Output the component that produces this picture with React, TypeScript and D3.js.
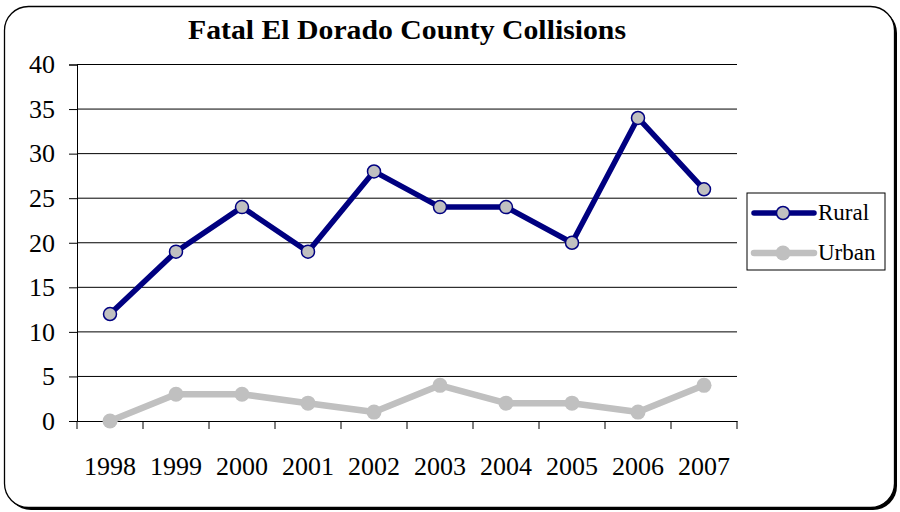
import React, { useEffect, useRef } from "react";
import * as d3 from "d3";

const years = ["1998", "1999", "2000", "2001", "2002", "2003", "2004", "2005", "2006", "2007"];
const rural = [12, 19, 24, 19, 28, 24, 24, 20, 34, 26];
const urban = [0, 3, 3, 2, 1, 4, 2, 2, 1, 4];
const yTicks = [0, 5, 10, 15, 20, 25, 30, 35, 40];
const seriesNames = ["Rural", "Urban"];

const FONT = "'Liberation Serif', 'Times New Roman', serif";
const NAVY = "#000080";
const GREY = "#C0C0C0";

const App = () => {
  const svgRef = useRef<SVGSVGElement>(null);

  useEffect(() => {
    const svg = d3.select(svgRef.current);
    svg.selectAll("*").remove();

    // frame with a small shadow bottom-right
    svg.append("rect")
      .attr("x", 7).attr("y", 9).attr("width", 890).attr("height", 501)
      .attr("rx", 24).attr("fill", "#000");
    svg.append("rect")
      .attr("x", 4.5).attr("y", 6.5).attr("width", 890).attr("height", 501)
      .attr("rx", 24).attr("fill", "#fff").attr("stroke", "#000").attr("stroke-width", 1.3);

    svg.append("text")
      .attr("x", 407).attr("y", 39)
      .attr("text-anchor", "middle")
      .attr("font-family", FONT).attr("font-weight", "bold").attr("font-size", 28)
      .attr("textLength", 438).attr("lengthAdjust", "spacingAndGlyphs")
      .text("Fatal El Dorado County Collisions");

    const x = d3.scaleBand().domain(years).range([77, 737]);
    const y = d3.scaleLinear().domain([0, 40]).range([421, 64.5]);
    const cx = (d: string) => (x(d) as number) + x.bandwidth() / 2;

    // gridlines
    svg.append("g").selectAll("line").data(yTicks.filter((t) => t > 0)).join("line")
      .attr("x1", 77).attr("x2", 737)
      .attr("y1", (d) => y(d)).attr("y2", (d) => y(d))
      .attr("stroke", "#000").attr("stroke-width", 1);

    const yAxis = svg.append("g").attr("transform", "translate(77,0)")
      .call(d3.axisLeft(y).tickValues(yTicks).tickSize(8).tickPadding(14).tickFormat((d) => String(d)));
    yAxis.select(".domain").attr("stroke", "#000");
    yAxis.selectAll("text").attr("font-family", FONT).attr("font-size", 26).attr("fill", "#000");

    const xAxis = svg.append("g").attr("transform", "translate(0,421)")
      .call(d3.axisBottom(x).tickSize(0).tickPadding(36));
    xAxis.select(".domain").attr("stroke", "#000");
    xAxis.selectAll("text").attr("font-family", FONT).attr("font-size", 26).attr("fill", "#000");
    // category boundary ticks
    xAxis.append("g").selectAll("line").data(years.concat(["end"])).join("line")
      .attr("x1", (_, i) => 77 + i * x.step()).attr("x2", (_, i) => 77 + i * x.step())
      .attr("y1", 0).attr("y2", 8).attr("stroke", "#000");

    const line = d3.line<number>().x((_, i) => cx(years[i])).y((d) => y(d));

    svg.append("path").datum(urban).attr("d", line)
      .attr("fill", "none").attr("stroke", GREY).attr("stroke-width", 6.5).attr("stroke-linejoin", "round");
    svg.append("g").selectAll("circle").data(urban).join("circle")
      .attr("cx", (_, i) => cx(years[i])).attr("cy", (d) => y(d)).attr("r", 7.5).attr("fill", GREY);

    svg.append("path").datum(rural).attr("d", line)
      .attr("fill", "none").attr("stroke", NAVY).attr("stroke-width", 5.5).attr("stroke-linejoin", "round");
    svg.append("g").selectAll("circle").data(rural).join("circle")
      .attr("cx", (_, i) => cx(years[i])).attr("cy", (d) => y(d)).attr("r", 6.5)
      .attr("fill", GREY).attr("stroke", NAVY).attr("stroke-width", 1.5);

    // legend
    const lg = svg.append("g");
    lg.append("rect").attr("x", 747).attr("y", 193).attr("width", 138).attr("height", 77)
      .attr("fill", "#fff").attr("stroke", "#000").attr("stroke-width", 1);
    seriesNames.forEach((name, i) => {
      const ly = 213 + i * 40;
      const col = i === 0 ? NAVY : GREY;
      lg.append("line").attr("x1", 754).attr("x2", 814).attr("y1", ly).attr("y2", ly)
        .attr("stroke", col).attr("stroke-width", i === 0 ? 5.5 : 6.5).attr("stroke-linecap", "round");
      lg.append("circle").attr("cx", 783).attr("cy", ly).attr("r", i === 0 ? 6.5 : 7.5)
        .attr("fill", GREY).attr("stroke", i === 0 ? NAVY : "none").attr("stroke-width", 1.5);
      lg.append("text").attr("x", 818).attr("y", ly + 7)
        .attr("font-family", FONT).attr("font-size", 23).text(name);
    });
  }, []);

  return (
    <svg ref={svgRef} width={900} height={512}
      style={{ position: "absolute", left: 0, top: 0, display: "block" }} />
  );
};

export default App;
